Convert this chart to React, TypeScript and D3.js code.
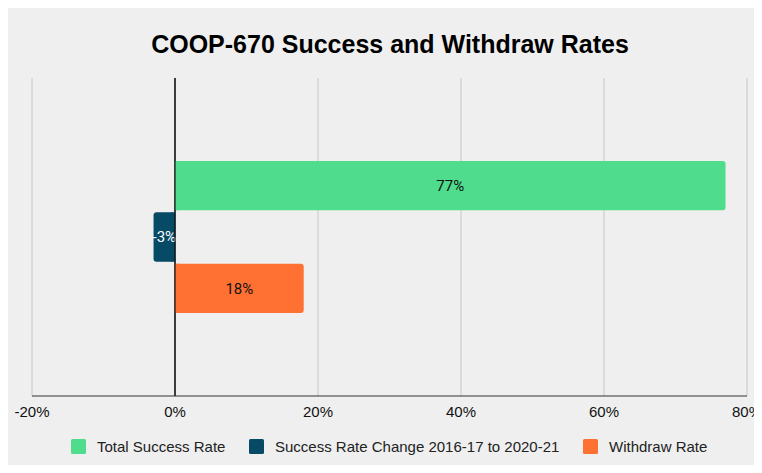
import { useEffect, useRef } from "react";
import * as d3 from "d3";

const seriesNames = ["Total Success Rate", "Success Rate Change 2016-17 to 2020-21", "Withdraw Rate"];
const seriesValues = [77, -3, 18];
const seriesColors = ["#4fdd8d", "#074a66", "#ff7033"];
const labelColors = ["#111111", "#ffffff", "#111111"];
const xTicks = [-20, 0, 20, 40, 60, 80];

export default function App() {
  const svgRef = useRef<SVGSVGElement | null>(null);

  useEffect(() => {
    const svgEl = svgRef.current;
    if (!svgEl) return;
    const width = 762;
    const height = 473;
    const margin = { top: 78, right: 15, bottom: 77, left: 32 };

    const svg = d3.select(svgEl);
    svg.selectAll("*").remove();

    svg.append("rect").attr("x", 8).attr("y", 6).attr("width", width - 8).attr("height", 466).attr("fill", "#efefef");

    svg
      .append("text")
      .attr("x", 390)
      .attr("y", 53)
      .attr("text-anchor", "middle")
      .attr("font-family", "Liberation Sans, Arial, sans-serif")
      .attr("font-weight", 700)
      .attr("font-size", 25)
      .attr("fill", "#000")
      .text("COOP-670 Success and Withdraw Rates");

    const x = d3.scaleLinear().domain([-20, 80]).range([margin.left, width - margin.right]);
    const y0 = margin.top;
    const y1 = height - margin.bottom;

    const outer = d3.scaleBand().domain(["cat"]).range([y0, y1]).paddingInner(0).paddingOuter(0.54);
    const inner = d3
      .scaleBand<number>()
      .domain(d3.range(seriesValues.length))
      .range([0, outer.bandwidth()])
      .paddingInner(0.04)
      .paddingOuter(0.01);

    const grid = svg.append("g");
    xTicks.forEach((t) => {
      grid
        .append("line")
        .attr("x1", x(t))
        .attr("x2", x(t))
        .attr("y1", y0)
        .attr("y2", y1)
        .attr("stroke", t === 0 ? "#000" : "#c6c6c6")
        .attr("stroke-width", 1);
    });

    const bars = svg.append("g").attr("transform", `translate(0, ${outer("cat") ?? 0})`);
    seriesValues.forEach((v, i) => {
      const bx = Math.min(x(0), x(v));
      const bw = Math.abs(x(v) - x(0));
      const by = inner(i) ?? 0;
      const bh = inner.bandwidth();
      bars.append("rect").attr("x", bx).attr("y", by).attr("width", bw).attr("height", bh).attr("rx", 3).attr("fill", seriesColors[i]);
      // square the end that sits on the zero line
      bars
        .append("rect")
        .attr("x", v >= 0 ? x(0) : x(0) - Math.min(4, bw))
        .attr("y", by)
        .attr("width", Math.min(4, bw))
        .attr("height", bh)
        .attr("fill", seriesColors[i]);
      bars
        .append("text")
        .attr("x", bx + bw / 2)
        .attr("y", by + bh / 2)
        .attr("dy", "0.36em")
        .attr("text-anchor", "middle")
        .attr("font-family", "Roboto, sans-serif")
        .attr("font-size", 15)
        .attr("fill", labelColors[i])
        .text(`${v}%`);
    });

    // zero line on top of bars
    svg.append("line").attr("x1", x(0)).attr("x2", x(0)).attr("y1", y0).attr("y2", y1).attr("stroke", "#000");

    svg.append("line").attr("x1", x(-20)).attr("x2", x(80)).attr("y1", y1).attr("y2", y1).attr("stroke", "#333");

    xTicks.forEach((t) => {
      svg
        .append("text")
        .attr("x", x(t))
        .attr("y", y1 + 21)
        .attr("text-anchor", "middle")
        .attr("font-family", "Liberation Sans, Arial, sans-serif")
        .attr("font-size", 15)
        .attr("fill", "#111")
        .text(`${t}%`);
    });

    const legendX = [71, 249, 583];
    const legend = svg.append("g").attr("transform", `translate(0, ${y1 + 50.5})`);
    seriesNames.forEach((name, i) => {
      const g = legend.append("g").attr("transform", `translate(${legendX[i]}, 0)`);
      g.append("rect").attr("x", 0).attr("y", -7.5).attr("width", 15).attr("height", 15).attr("rx", 1.5).attr("fill", seriesColors[i]);
      g.append("text")
        .attr("x", 26)
        .attr("y", 0)
        .attr("dy", "0.36em")
        .attr("font-family", "Liberation Sans, Arial, sans-serif")
        .attr("font-size", 15)
        .attr("fill", "#222")
        .text(name);
    });
  }, []);

  return (
    <div style={{ margin: -8 }}>
      <svg ref={svgRef} width={762} height={473} style={{ display: "block", background: "#fff" }} />
    </div>
  );
}
